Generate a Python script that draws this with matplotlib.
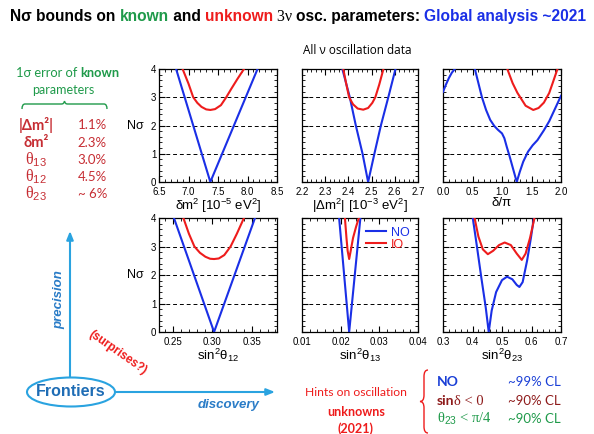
"""N-sigma bounds on known/unknown 3-nu oscillation parameters (global analysis ~2021)."""

import matplotlib
matplotlib.use("Agg")
import matplotlib.pyplot as plt
from matplotlib.patches import Ellipse, PathPatch
from matplotlib.path import Path
from matplotlib.ticker import MultipleLocator, FormatStrFormatter

plt.rcParams["font.family"] = ["Liberation Sans", "DejaVu Sans"]
plt.rcParams["mathtext.fontset"] = "custom"
plt.rcParams["mathtext.rm"] = "Liberation Sans"
plt.rcParams["mathtext.it"] = "Liberation Sans:italic"

# ---- data (x, N sigma) ----
dm2_no_x = [6.79, 7.37, 8.17]
dm2_no_y = [4.0, 0.0, 4.0]
dm2_io_x = [6.90, 7.00, 7.08, 7.15, 7.22, 7.30, 7.37, 7.45, 7.55, 7.64, 7.72, 7.83, 7.94]
dm2_io_y = [4.0, 3.48, 3.0, 2.8, 2.66, 2.57, 2.55, 2.58, 2.72, 3.0, 3.28, 3.65, 4.0]

Dm2_no_x = [2.374, 2.406, 2.432, 2.461, 2.485, 2.512, 2.540, 2.572, 2.603]
Dm2_no_y = [4.0, 3.0, 2.0, 1.0, 0.0, 1.0, 2.0, 3.0, 4.0]
Dm2_io_x = [2.378, 2.390, 2.403, 2.420, 2.440, 2.464, 2.485, 2.503, 2.516, 2.533, 2.551]
Dm2_io_y = [4.0, 3.5, 3.0, 2.75, 2.6, 2.56, 2.62, 2.8, 3.0, 3.45, 4.0]

dcp_no_x = [0.0, 0.05, 0.10, 0.15, 0.20, 0.37, 0.54, 0.60, 0.66, 0.73, 0.80, 0.87,
            0.93, 1.00, 1.04, 1.08, 1.13, 1.19, 1.25, 1.30, 1.36, 1.44, 1.52, 1.60,
            1.71, 1.80, 1.90, 2.0]
dcp_no_y = [3.19, 3.45, 3.68, 3.87, 4.0, 4.4, 4.0, 3.5, 3.0, 2.55, 2.2, 1.98,
            1.85, 1.72, 1.55, 1.25, 0.9, 0.45, 0.0, 0.35, 0.72, 1.07, 1.3, 1.48,
            1.83, 2.15, 2.6, 3.05]
dcp_io_x = [1.09, 1.18, 1.26, 1.40, 1.53, 1.62, 1.71, 1.80, 1.86, 1.94]
dcp_io_y = [4.0, 3.5, 3.16, 2.70, 2.55, 2.62, 2.81, 3.15, 3.51, 4.0]

s12_no_x = [0.251, 0.302, 0.354]
s12_no_y = [4.0, 0.0, 4.0]
s12_io_x = [0.263, 0.270, 0.277, 0.284, 0.291, 0.297, 0.302, 0.308, 0.315, 0.323, 0.331, 0.340]
s12_io_y = [4.0, 3.45, 3.0, 2.78, 2.64, 2.57, 2.56, 2.58, 2.7, 3.0, 3.45, 4.0]

s13_no_x = [0.0196, 0.0222, 0.0251]
s13_no_y = [4.0, 0.0, 4.0]
s13_io_x = [0.0211, 0.0215, 0.0218, 0.0222, 0.0226, 0.0232, 0.0240, 0.0247]
s13_io_y = [4.0, 3.3, 2.85, 2.56, 2.85, 3.3, 3.7, 4.0]

s23_no_x = [0.401, 0.415, 0.430, 0.445, 0.455, 0.465, 0.480, 0.500, 0.517, 0.535,
            0.550, 0.559, 0.570, 0.585, 0.598, 0.608]
s23_no_y = [4.0, 3.0, 1.9, 0.85, 0.0, 0.75, 1.4, 1.82, 1.94, 1.85,
            1.65, 1.58, 1.75, 2.5, 3.3, 4.0]
s23_io_x = [0.407, 0.420, 0.435, 0.452, 0.470, 0.490, 0.509, 0.530, 0.550, 0.567,
            0.580, 0.595, 0.610]
s23_io_y = [4.0, 3.35, 2.9, 2.73, 2.85, 3.05, 3.14, 3.05, 2.75, 2.53,
            2.75, 3.3, 4.0]

known_params = ["|Δm²|", "δm²", "θ$_{13}$", "θ$_{12}$", "θ$_{23}$"]
known_errors = ["1.1%", "2.3%", "3.0%", "4.5%", "~ 6%"]

BLUE = "#1a2fe6"
RED = "#ee1c1c"
GREEN = "#1f9a4a"
TAB_RED = "#c62d33"
DARK_RED = "#8e1b1b"
SKY = "#2aa3e0"

W, H = 594, 434
fig = plt.figure(figsize=(W / 100, H / 100), dpi=100)

# overlay in pixel coordinates for all the slide text
ov = fig.add_axes([0, 0, 1, 1])
ov.set_xlim(0, W)
ov.set_ylim(H, 0)
ov.axis("off")
ov.patch.set_visible(False)


def px_axes(x0, y0, x1, y1):
    return fig.add_axes([x0 / W, 1 - y1 / H, (x1 - x0) / W, (y1 - y0) / H])


def style_panel(ax, xlim, major, minor, fmt, xlabel, show_y):
    ax.set_xlim(*xlim)
    ax.set_ylim(0, 4)
    ax.xaxis.set_major_locator(MultipleLocator(major))
    ax.xaxis.set_minor_locator(MultipleLocator(minor))
    ax.xaxis.set_major_formatter(FormatStrFormatter(fmt))
    ax.yaxis.set_major_locator(MultipleLocator(1))
    ax.yaxis.set_minor_locator(MultipleLocator(0.2))
    ax.tick_params(which="both", direction="in", top=True, right=True, labelsize=7)
    ax.tick_params(axis="x", pad=3.5)
    ax.tick_params(axis="y", pad=2)
    ax.tick_params(which="major", length=4, width=0.8)
    ax.tick_params(which="minor", length=2, width=0.6)
    if not show_y:
        ax.set_yticklabels([])
    for y in (1, 2, 3):
        ax.axhline(y, color="black", ls=(0, (4, 3)), lw=0.7, zorder=1)
    for s in ax.spines.values():
        s.set_linewidth(0.9)
    ax.set_xlabel(xlabel, fontsize=9.5, labelpad=0)


panels = [
    ((159, 69, 277, 182), (6.5, 8.5), 0.5, 0.1, "%.1f",
     "δm$^2$ [10$^{-5}$ eV$^2$]", True, dm2_no_x, dm2_no_y, dm2_io_x, dm2_io_y),
    ((302, 69, 418, 182), (2.2, 2.7), 0.1, 0.02, "%.1f",
     "|Δm$^2$| [10$^{-3}$ eV$^2$]", False, Dm2_no_x, Dm2_no_y, Dm2_io_x, Dm2_io_y),
    ((443, 69, 561, 182), (0.0, 2.0), 0.5, 0.1, "%.1f",
     "δ/π", False, dcp_no_x, dcp_no_y, dcp_io_x, dcp_io_y),
    ((159, 218, 277, 332), (0.232, 0.382), 0.05, 0.01, "%.2f",
     "sin$^2$θ$_{12}$", True, s12_no_x, s12_no_y, s12_io_x, s12_io_y),
    ((302, 218, 418, 332), (0.01, 0.04), 0.01, 0.002, "%.2f",
     "sin$^2$θ$_{13}$", False, s13_no_x, s13_no_y, s13_io_x, s13_io_y),
    ((443, 218, 561, 332), (0.3, 0.7), 0.1, 0.02, "%.1f",
     "sin$^2$θ$_{23}$", False, s23_no_x, s23_no_y, s23_io_x, s23_io_y),
]

axes = []
for box, xlim, major, minor, fmt, xlabel, show_y, nx, ny, ix, iy in panels:
    ax = px_axes(*box)
    ax.plot(nx, ny, color=BLUE, lw=1.5, label="NO", zorder=3, solid_joinstyle="round")
    ax.plot(ix, iy, color=RED, lw=1.5, label="IO", zorder=3, solid_joinstyle="round")
    style_panel(ax, xlim, major, minor, fmt, xlabel, show_y)
    axes.append(ax)

axes[4].legend(loc="upper right", frameon=False, fontsize=9, handlelength=1.6,
               handletextpad=0.4, labelspacing=0.0, borderaxespad=0.3,
               labelcolor="linecolor")

ov.text(135, 126, "Nσ", fontsize=9, ha="center", va="center")
ov.text(135, 275, "Nσ", fontsize=9, ha="center", va="center")
ov.text(357, 50, "All ν oscillation data", fontsize=8.5, ha="center", va="center",
        family=["Open Sans", "DejaVu Sans"])

# ---- title made of coloured pieces ----
renderer = fig.canvas.get_renderer()


def chain(x, y, pieces, gap=0.0):
    for s, kw in pieces:
        t = ov.text(x, y, s, ha="left", va="baseline", **kw)
        x += t.get_window_extent(renderer).width + gap
    return x


bold = dict(fontsize=11.2, fontweight="bold")
chain(10, 21, [
    ("Nσ bounds on ", dict(color="black", **bold)),
    ("known", dict(color=GREEN, **bold)),
    (" and ", dict(color="black", **bold)),
    ("unknown", dict(color=RED, **bold)),
    (" 3ν ", dict(color="black", fontsize=11.5, family=["Liberation Serif", "DejaVu Serif"])),
    ("osc. parameters: ", dict(color="black", **bold)),
    ("Global analysis ~2021", dict(color=BLUE, **bold)),
])

# ---- left: known parameter errors ----
calibri = ["Lato", "DejaVu Sans"]
serif = ["Liberation Serif", "DejaVu Serif"]
chain(16, 77, [
    ("1σ error of ", dict(color=GREEN, fontsize=9.3, family=calibri)),
    ("known", dict(color=GREEN, fontsize=9.3, family=calibri, fontweight="bold")),
])
ov.text(63, 90, "parameters", color=GREEN, fontsize=9, family=calibri,
        ha="center", va="center")


def hbrace(x0, x1, y, h, color):
    xm = (x0 + x1) / 2
    r = h * 0.6
    verts = [(x0, y + h), (x0, y), (x0 + r, y), (xm - r, y), (xm, y), (xm, y - h * 0.6),
             (xm, y), (xm + r, y), (x1 - r, y), (x1, y), (x1, y + h)]
    codes = [Path.MOVETO, Path.CURVE3, Path.CURVE3, Path.LINETO, Path.CURVE3, Path.CURVE3,
             Path.CURVE3, Path.CURVE3, Path.LINETO, Path.CURVE3, Path.CURVE3]
    ov.add_patch(PathPatch(Path(verts, codes), fill=False, ec=color, lw=1.0))


def vbrace(x, y0, y1, w, color):
    ym = (y0 + y1) / 2
    r = w * 0.8
    verts = [(x + w / 2, y0), (x, y0), (x, y0 + r), (x, ym - r), (x, ym), (x - w / 2, ym),
             (x, ym), (x, ym + r), (x, y1 - r), (x, y1), (x + w / 2, y1)]
    codes = [Path.MOVETO, Path.CURVE3, Path.CURVE3, Path.LINETO, Path.CURVE3, Path.CURVE3,
             Path.CURVE3, Path.CURVE3, Path.LINETO, Path.CURVE3, Path.CURVE3]
    ov.add_patch(PathPatch(Path(verts, codes), fill=False, ec=color, lw=1.0))


hbrace(22, 107, 104, 5, GREEN)

row_y = [125, 143, 160, 177, 194]
for name, err, y in zip(known_params, known_errors, row_y):
    if name.startswith("θ"):
        ov.text(36, y, name, color=TAB_RED, fontsize=11.5, family=serif,
                ha="center", va="center")
    else:
        ov.text(36, y, name, color=TAB_RED, fontsize=10.5, family=calibri,
                fontweight="bold", ha="center", va="center")
    ov.text(107, y, err, color=TAB_RED, fontsize=9.5, family=calibri,
            ha="right", va="center")

# ---- frontiers diagram ----
ov.annotate("", xy=(70, 231), xytext=(70, 378),
            arrowprops=dict(arrowstyle="-|>,head_length=0.5,head_width=0.2",
                            color=SKY, lw=1.5, shrinkA=0, shrinkB=0))
ov.annotate("", xy=(275, 392), xytext=(115, 392),
            arrowprops=dict(arrowstyle="-|>,head_length=0.5,head_width=0.2",
                            color=SKY, lw=1.5, shrinkA=0, shrinkB=0))
ov.add_patch(Ellipse((71, 392), 88, 29, fill=True, fc="white", ec=SKY, lw=1.5, zorder=3))
ov.text(71, 392, "Frontiers", color="#1f6db5", fontsize=11.5, fontweight="bold",
        ha="center", va="center", zorder=4)
ov.text(59, 300, "precision", color="#2a7cc7", fontsize=9.5, fontweight="bold",
        style="italic", rotation=90, ha="center", va="center")
ov.text(229, 405, "discovery", color="#2a7cc7", fontsize=9.5, fontweight="bold",
        style="italic", ha="center", va="center")
ov.text(118, 353, "(surprises?)", color=RED, fontsize=8.5, fontweight="bold",
        rotation=-35, ha="center", va="center")

# ---- hints on unknowns ----
ov.text(356, 393, "Hints on oscillation", color=RED, fontsize=8.7, family=calibri,
        ha="center", va="center")
ov.text(356, 412, "unknowns", color=RED, fontsize=9, family=calibri,
        fontweight="bold", ha="center", va="center")
ov.text(356, 429, "(2021)", color=RED, fontsize=9, family=calibri,
        fontweight="bold", ha="center", va="center")
vbrace(424, 370, 433, 8, RED)

ov.text(437, 386, "NO", color="#1a3fd6", fontsize=10, family=calibri,
        fontweight="bold", ha="left", va="baseline")
chain(437, 405, [
    ("sin", dict(color=DARK_RED, fontsize=10, family=calibri, fontweight="bold")),
    ("δ < 0", dict(color=DARK_RED, fontsize=10.5, family=serif)),
])
ov.text(437, 423, "θ$_{23}$ < π/4", color=GREEN, fontsize=10.5, family=serif,
        ha="left", va="baseline")
for y, s, c in [(386, "~99% CL", "#1a3fd6"), (405, "~90% CL", DARK_RED),
                (423, "~90% CL", GREEN)]:
    ov.text(508, y, s, color=c, fontsize=9.5, family=calibri, ha="left", va="baseline")

fig.savefig("out.png", dpi=100)
